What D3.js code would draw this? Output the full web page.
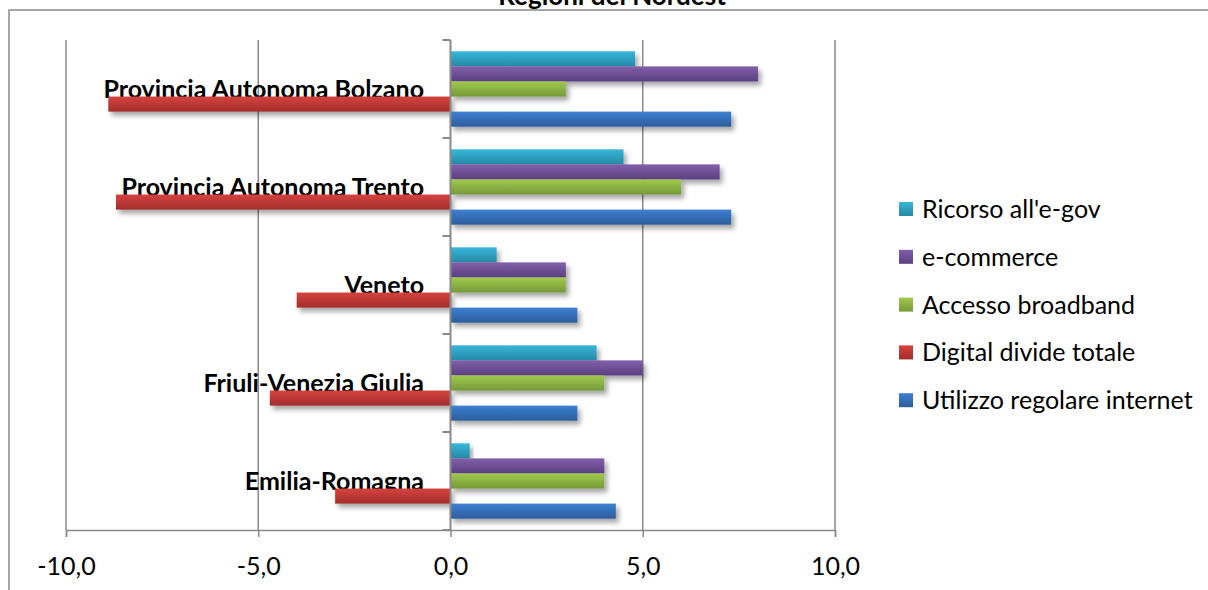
<!DOCTYPE html>
<html>
<head>
<meta charset="utf-8">
<script src="https://cdn.jsdelivr.net/npm/d3@7"></script>
<style>
  html, body { margin: 0; padding: 0; background: #fff; overflow: hidden; }
  svg { display: block; }
  text { font-family: Lato, "Open Sans", sans-serif; fill: #000; }
</style>
</head>
<body>
<svg id="chart" width="1208" height="590"></svg>
<script>
// Regions (top to bottom)
const categories = [
  "Provincia Autonoma Bolzano",
  "Provincia Autonoma Trento",
  "Veneto",
  "Friuli-Venezia Giulia",
  "Emilia-Romagna"
];

// Series values, one per region
const utilizzoInternet = [7.3, 7.3, 3.3, 3.3, 4.3];
const digitalDivide    = [-8.9, -8.7, -4.0, -4.7, -3.0];
const accessoBroadband = [3.0, 6.0, 3.0, 4.0, 4.0];
const eCommerce        = [8.0, 7.0, 3.0, 5.0, 4.0];
const ricorsoEgov      = [4.8, 4.5, 1.2, 3.8, 0.5];

const seriesNames = [
  "Ricorso all'e-gov",
  "e-commerce",
  "Accesso broadband",
  "Digital divide totale",
  "Utilizzo regolare internet"
];

const tickValues = [-10, -5, 0, 5, 10];
const tickLabels = ["-10,0", "-5,0", "0,0", "5,0", "10,0"];

const title = "Regioni del Nordest";

// Series listed in the order they stack inside each group (top to bottom)
const seriesValues = [ricorsoEgov, eCommerce, accessoBroadband, digitalDivide, utilizzoInternet];
const seriesColors = [
  ["#38b7da", "#2688a5"],
  ["#8260ab", "#5a3f80"],
  ["#a0ca4d", "#76993a"],
  ["#d6433f", "#a22d2b"],
  ["#3d80d2", "#2c5d9c"]
];

const svg = d3.select("#chart");
const plot = { left: 66, right: 835, top: 40, bottom: 530 };
const axisColor = "#8a8a8a";

const x = d3.scaleLinear().domain([-10, 10]).range([plot.left, plot.right]);
const y0 = d3.scaleBand().domain(categories).range([plot.top, plot.bottom]).padding(0);
const y1 = d3.scaleBand().domain(seriesNames).range([0, y0.bandwidth()])
  .paddingInner(0).paddingOuter(0.75);

const defs = svg.append("defs");
seriesColors.forEach((c, i) => {
  const g = defs.append("linearGradient")
    .attr("id", "grad" + i).attr("x1", 0).attr("y1", 0).attr("x2", 0).attr("y2", 1);
  g.append("stop").attr("offset", "0%").attr("stop-color", c[0]);
  g.append("stop").attr("offset", "100%").attr("stop-color", c[1]);
});
const shadow = defs.append("filter").attr("id", "shadow")
  .attr("x", "-10%").attr("y", "-30%").attr("width", "130%").attr("height", "190%");
shadow.append("feDropShadow")
  .attr("dx", 3).attr("dy", 4).attr("stdDeviation", 2.5)
  .attr("flood-color", "#000").attr("flood-opacity", 0.35);

// Chart frame
svg.append("rect")
  .attr("x", 9).attr("y", 10).attr("width", 1212).attr("height", 600)
  .attr("fill", "none").attr("stroke", axisColor).attr("stroke-width", 1.5);

// Title
svg.append("text")
  .attr("x", 612).attr("y", 5)
  .attr("text-anchor", "middle")
  .attr("font-size", 26).attr("font-weight", "bold")
  .text(title);

// Vertical gridlines
svg.append("g").selectAll("line")
  .data(tickValues.filter(v => v !== 0))
  .join("line")
  .attr("x1", d => x(d)).attr("x2", d => x(d))
  .attr("y1", plot.top).attr("y2", plot.bottom)
  .attr("stroke", axisColor).attr("stroke-width", 1.5);

// Category labels (drawn below the bars)
svg.append("g").selectAll("text")
  .data(categories)
  .join("text")
  .attr("x", 424)
  .attr("y", d => y0(d) + y0.bandwidth() / 2 + 9)
  .attr("text-anchor", "end")
  .attr("font-size", 25).attr("font-weight", "bold")
  .text(d => d);

// Bars
const groups = svg.append("g").selectAll("g")
  .data(categories)
  .join("g")
  .attr("transform", d => `translate(0,${y0(d)})`);

groups.selectAll("rect")
  .data((d, ci) => seriesNames.map((s, si) => ({ s, si, v: seriesValues[si][ci] })))
  .join("rect")
  .attr("x", d => x(Math.min(0, d.v)))
  .attr("width", d => Math.abs(x(d.v) - x(0)))
  .attr("y", d => y1(d.s))
  .attr("height", y1.bandwidth())
  .attr("fill", d => `url(#grad${d.si})`)
  .attr("filter", "url(#shadow)");

// Bottom value axis
const xAxis = svg.append("g")
  .attr("transform", `translate(0,${plot.bottom})`)
  .call(d3.axisBottom(x).tickValues(tickValues).tickSize(7)
    .tickFormat((d, i) => tickLabels[i]));
xAxis.select(".domain").attr("stroke", axisColor).attr("stroke-width", 1.5);
xAxis.selectAll(".tick line").attr("stroke", axisColor).attr("stroke-width", 1.5);
xAxis.selectAll(".tick text")
  .attr("y", 45).attr("dy", 0)
  .attr("font-size", 25).attr("font-family", "Lato, sans-serif").attr("fill", "#000");

// Category axis at zero
const yAxis = svg.append("g")
  .attr("transform", `translate(${x(0)},0)`);
yAxis.append("line")
  .attr("x1", 0).attr("x2", 0).attr("y1", plot.top).attr("y2", plot.bottom)
  .attr("stroke", axisColor).attr("stroke-width", 2);
yAxis.selectAll("line.tick")
  .data(d3.range(categories.length + 1))
  .join("line")
  .attr("class", "tick")
  .attr("x1", -8).attr("x2", 0)
  .attr("y1", i => plot.top + i * y0.step())
  .attr("y2", i => plot.top + i * y0.step())
  .attr("stroke", axisColor).attr("stroke-width", 2);

// Legend
const legendItems = svg.append("g").selectAll("g")
  .data(seriesNames)
  .join("g")
  .attr("transform", (d, i) => `translate(899,${209 + i * 47.8})`);
legendItems.append("rect")
  .attr("x", 0).attr("y", -7).attr("width", 14).attr("height", 14)
  .attr("fill", (d, i) => `url(#grad${i})`);
legendItems.append("text")
  .attr("x", 23).attr("y", 9)
  .attr("font-size", 25)
  .text(d => d);
</script>
</body>
</html>
